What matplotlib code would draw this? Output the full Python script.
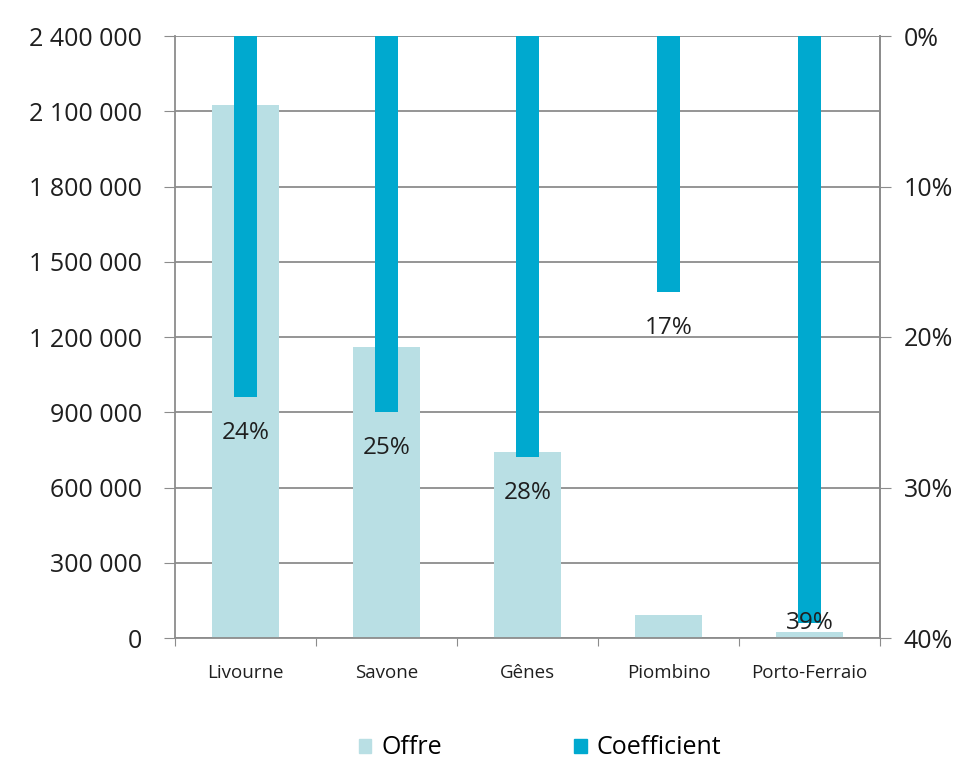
import matplotlib.pyplot as plt
from matplotlib.ticker import FuncFormatter
import numpy as np

plt.rcParams['font.family'] = ['Open Sans', 'DejaVu Sans']

ports = ['Livourne', 'Savone', 'Gênes', 'Piombino', 'Porto-Ferraio']
offre = [2125000, 1160000, 742000, 92000, 24000]
coef = [0.24, 0.25, 0.28, 0.17, 0.39]
coef_labels = ['24%', '25%', '28%', '17%', '39%']

light = '#b9dfe4'
dark = '#00a9cf'
grid = '#8c8c8c'
txt = '#1f1f1f'

fig = plt.figure(figsize=(9.64, 7.61), dpi=100)
ax = fig.add_axes([175 / 964, 1 - 638 / 761, 705 / 964, 602 / 761])
x = np.arange(len(ports))

ax.bar(x, offre, width=0.48, color=light, zorder=2)
ax.set_ylim(0, 2400000)
ax.set_xlim(-0.5, len(ports) - 0.5)
ax.set_yticks(np.arange(0, 2400001, 300000))
ax.yaxis.set_major_formatter(FuncFormatter(lambda v, p: f'{int(v):,}'.replace(',', ' ')))
ax.grid(axis='y', color=grid, linewidth=1.3, zorder=0)
ax.set_axisbelow(True)

# category boundaries carry the ticks, names sit in between
ax.set_xticks(np.arange(-0.5, len(ports)), minor=False)
ax.set_xticklabels([])
ax.set_xticks(x, minor=True)
ax.set_xticklabels(ports, minor=True, fontsize=13.5, color=txt)
ax.tick_params(axis='x', which='minor', length=0, pad=19)
ax.tick_params(axis='x', which='major', length=6, color=grid, direction='out')
ax.tick_params(axis='y', length=8, color=grid, labelsize=18, labelcolor=txt, pad=16)

ax.spines['top'].set_visible(False)
for s in ['left', 'bottom', 'right']:
    ax.spines[s].set_color(grid)
    ax.spines[s].set_linewidth(1.3)

ax2 = ax.twinx()
ax2.bar(x, coef, width=0.16, color=dark, zorder=3)
ax2.set_ylim(0.40, 0)
ax2.set_yticks(np.arange(0, 0.41, 0.1))
ax2.yaxis.set_major_formatter(FuncFormatter(lambda v, p: f'{v * 100:.0f}%'))
ax2.tick_params(axis='y', length=8, color=grid, labelsize=18, labelcolor=txt, pad=9)
for s in ['top', 'left', 'bottom']:
    ax2.spines[s].set_visible(False)
ax2.spines['right'].set_color(grid)
ax2.spines['right'].set_linewidth(1.3)

# value labels just past the bar end, kept inside the plot area
h = 602
for xi, v, lab in zip(x, coef, coef_labels):
    yf = 1 - v / 0.40 - 36 / h
    yf = max(yf, 15 / h)
    ax2.text(xi, yf, lab, transform=ax2.get_xaxis_transform(), ha='center', va='center',
             fontsize=17.5, color=txt, zorder=5)

handles = [plt.Rectangle((0, 0), 1, 1, color=light), plt.Rectangle((0, 0), 1, 1, color=dark)]
fig.legend(handles, ['Offre', 'Coefficient'], loc='center', bbox_to_anchor=(540 / 964, 1 - 748 / 761),
           ncol=2, frameon=False, fontsize=18, handlelength=0.5, handleheight=0.5,
           handletextpad=0.4, columnspacing=5.3)

fig.savefig('out.png', dpi=100)
